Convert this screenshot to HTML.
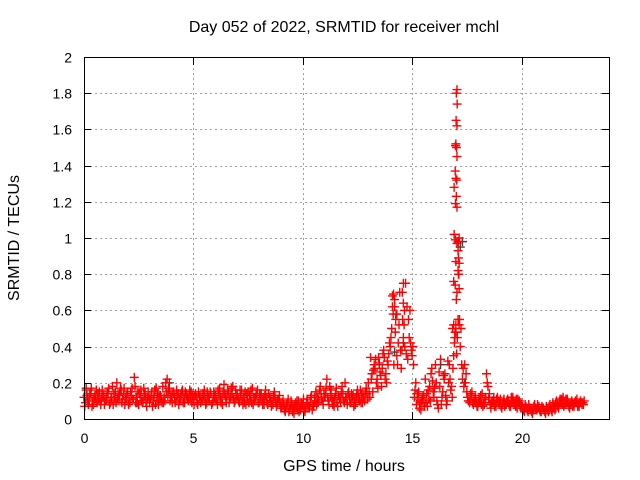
<!DOCTYPE html>
<html><head><meta charset="utf-8"><style>
body{margin:0;background:#fff}
svg{display:block;font-family:"Liberation Sans",sans-serif}
</style></head><body>
<svg id="chart" width="640" height="480" viewBox="0 0 640 480">
<rect width="640" height="480" fill="#fff"/>
<text x="344" y="32" font-size="16" text-anchor="middle">Day 052 of 2022, SRMTID for receiver mchl</text>
<text x="344" y="471" font-size="16" text-anchor="middle">GPS time / hours</text>
<text transform="translate(19,238) rotate(-90)" font-size="16" text-anchor="middle">SRMTID / TECUs</text>
<g id="grid"></g>
<g id="marks"></g>
<rect x="84.5" y="57.5" width="525" height="362" fill="none" stroke="#000" stroke-width="1"/>
<g id="ticks"></g>
</svg>
<script>
const xTicks=[0,5,10,15,20];
const yTicks=[0,0.2,0.4,0.6,0.8,1,1.2,1.4,1.6,1.8,2];
const yTickLabels=["0","0.2","0.4","0.6","0.8","1","1.2","1.4","1.6","1.8","2"];
const valsA=[.12,.16,.08,.14,.10,.13,.09,.15,.11,.12,
.10,.14,.09,.18,.12,.20,.10,.16,.13,.11,
.15,.09,.17,.23,.12,.08,.16,.10,.14,.11,
.09,.15,.12,.17,.08,.13,.18,.10,.22,.16,
.12,.15,.10,.14,.11,.16,.09,.13,.12,.15,
.11,.14,.08,.13,.10,.16,.09,.12,.14,.10,
.13,.08,.17,.11,.19,.09,.15,.12,.18,.10,
.14,.09,.16,.12,.08,.15,.11,.17,.10,.13,
.09,.14,.11,.16,.08,.12,.10,.15,.07,.11,
.06,.10,.04,.09,.05,.08,.03,.07,.10,.05,
.08,.04,.11,.06,.13,.07,.15,.09,.18,.10,
.12,.22,.08,.16,.10,.14,.07,.12,.18,.09,
.11,.15,.09,.13,.08,.16,.10,.14,.12,.17,
.20,.34,.15,.28,.22,.31,.18,.38,.25,.30,
.40,.68,.62,.35,.52,.28,.45,.75,.33,.60,
.35,.12,.08,.15,.05,.10,.22,.07,.18,.28,
.12,.20,.06,.33,.15,.25,.10,.30,.18,.35,
.52,.98,.40,.22,.30,.15,.10,.13,.08,.12,
.07,.10,.14,.08,.25,.11,.06,.10,.08,.12,
.09,.06,.11,.08,.10,.07,.12,.09,.06,.10,
.08,.05,.07,.04,.06,.03,.08,.05,.07,.04,
.06,.03,.05,.08,.04,.07,.10,.06,.09,.12,
.08,.11,.06,.10,.07,.09,.08,.10,.09];
const valsB=[.09,.11,.14,.07,.12,.16,.11,.08,.13,.10,
.15,.08,.12,.14,.09,.13,.17,.11,.08,.14,
.10,.13,.11,.09,.15,.12,.09,.13,.07,.12,
.13,.10,.08,.14,.11,.09,.12,.15,.17,.12,
.14,.09,.13,.10,.15,.12,.14,.10,.11,.13,
.13,.09,.12,.10,.13,.08,.12,.15,.09,.12,
.10,.14,.09,.15,.12,.16,.11,.14,.09,.13,
.10,.13,.08,.15,.11,.13,.09,.12,.14,.09,
.12,.08,.13,.09,.12,.07,.13,.09,.11,.08,
.09,.05,.08,.04,.10,.06,.09,.05,.06,.08,
.05,.09,.07,.12,.08,.10,.12,.16,.11,.14,
.17,.10,.13,.08,.12,.09,.11,.15,.10,.12,
.14,.09,.12,.10,.14,.11,.09,.12,.15,.11,
.12,.25,.30,.20,.34,.24,.36,.22,.32,.42,
.50,.30,.58,.42,.38,.55,.40,.62,.45,.38,
.30,.20,.11,.09,.12,.07,.14,.11,.25,.15,
.30,.08,.18,.12,.22,.08,.20,.16,.28,.48,
.45,.55,.30,.18,.25,.10,.14,.09,.11,.07,
.11,.08,.09,.12,.18,.08,.10,.07,.11,.09,
.07,.10,.08,.11,.07,.09,.08,.11,.09,.07,
.06,.08,.05,.06,.04,.07,.05,.06,.04,.06,
.04,.06,.07,.05,.06,.09,.07,.11,.08,.09,
.10,.07,.09,.08,.10,.07,.09,.08,.10];
const valsC=[.07,.13,.10,.17,.08,.11,.14,.10,.16,.08,
.12,.17,.11,.08,.15,.11,.14,.09,.17,.12,
.08,.15,.11,.18,.09,.14,.10,.17,.09,.15,
.11,.07,.16,.10,.13,.11,.09,.20,.13,.10,
.09,.12,.16,.08,.13,.09,.15,.11,.16,.09,
.08,.12,.15,.09,.14,.11,.15,.10,.08,.15,
.11,.16,.12,.08,.14,.12,.09,.17,.11,.16,
.12,.16,.10,.09,.14,.09,.16,.08,.12,.16,
.14,.10,.08,.12,.14,.10,.08,.12,.09,.13,
.07,.08,.06,.11,.07,.04,.07,.10,.04,.09,
.11,.06,.08,.09,.05,.12,.08,.11,.14,.08,
.14,.12,.18,.11,.07,.17,.13,.09,.14,.20,
.08,.12,.14,.07,.11,.13,.16,.09,.10,.14,
.15,.22,.27,.33,.17,.26,.28,.34,.20,.36,
.45,.58,.48,.30,.70,.38,.52,.36,.55,.42,
.40,.16,.14,.06,.10,.13,.09,.16,.10,.21,
.17,.10,.26,.08,.24,.13,.32,.22,.12,.42,
.36,.80,.50,.28,.20,.12,.09,.15,.10,.09,
.09,.13,.07,.11,.20,.14,.09,.12,.07,.10,
.11,.08,.07,.10,.08,.12,.10,.07,.11,.08,
.07,.04,.06,.08,.05,.05,.06,.08,.05,.07,
.05,.07,.04,.06,.09,.05,.08,.09,.11,.07,
.11,.09,.08,.07,.09,.11,.07,.09,.08];
const spikeT=[17.05,17.02,17.06,17.01,17.05,17.0,16.98,17.03,17.05,16.97,17.0,17.04,16.92,17.02,16.98,17.05,16.92,17.15,16.98,17.1,17.05,17.1,17.12,17.0,17.15,17.1,17.12,16.9,16.97,17.15,17.05,17.02,16.85,16.9,17.15,17.1,17.0,16.95,14.15,14.2,14.6,14.55,14.6,14.65,14.1,14.3,14.25];
const spikeV=[1.82,1.80,1.74,1.65,1.62,1.52,1.51,1.50,1.45,1.37,1.33,1.32,1.28,1.23,1.19,1.17,1.02,1.0,0.99,0.98,0.97,0.93,0.89,0.87,0.86,0.82,0.80,0.76,0.74,0.72,0.70,0.66,0.50,0.52,0.52,0.55,0.48,0.45,0.69,0.66,0.75,0.70,0.64,0.60,0.62,0.58,0.55];
const greyT=[0.1,3.9,13.5,14.2,14.6,16.3,17.2,17.3,17.4];
const greyV=[0.17,0.2,0.3,0.37,0.42,0.3,0.95,0.98,0.2];

const X=t=>84+t*(525/24);
const Y=v=>419-v*181;
const NS='http://www.w3.org/2000/svg';
const grid=document.getElementById('grid'),ticks=document.getElementById('ticks'),marks=document.getElementById('marks');
function mk(tag,attrs,parent){const e=document.createElementNS(NS,tag);for(const k in attrs)e.setAttribute(k,attrs[k]);parent.appendChild(e);return e;}
yTicks.forEach((v,i)=>{
  const y=Math.round(Y(v))+0.5;
  if(v>0&&v<2){const l=mk('line',{x1:85,x2:609,y1:y,y2:y,stroke:'#a0a0a0','stroke-dasharray':'2,3'},grid);
  
  }
  mk('line',{x1:84,x2:91,y1:y,y2:y,stroke:'#000'},ticks);
  mk('line',{x1:602,x2:609,y1:y,y2:y,stroke:'#000'},ticks);
  const t=mk('text',{x:72,y:y+5,'font-size':14,'text-anchor':'end'},ticks);
  t.textContent=yTickLabels[i];
  
  
});
xTicks.forEach(v=>{
  const x=Math.round(X(v))+0.5;
  if(v>0){const l=mk('line',{x1:x,x2:x,y1:58,y2:419,stroke:'#a0a0a0','stroke-dasharray':'2,3'},grid);
  
  }
  mk('line',{x1:x,x2:x,y1:412,y2:419,stroke:'#000'},ticks);
  mk('line',{x1:x,x2:x,y1:58,y2:65,stroke:'#000'},ticks);
  const t=mk('text',{x:x,y:443,'font-size':14,'text-anchor':'middle'},ticks);
  t.textContent=String(v);
  
  
});
function plus(t,v,col,name){
  const x=X(t),y=Y(v);
  const p=mk('path',{d:`M${x-4.5} ${y}H${x+4.5}M${x} ${y-4.5}V${y+4.5}`,stroke:col,'stroke-width':1.4,fill:'none'},marks);
  
  
}
greyT.forEach((t,i)=>plus(t,greyV[i],'#404040','grey-point'));
valsA.forEach((v,i)=>plus(i*0.1,v,'#ff0000','point-a'));
valsC.forEach((v,i)=>plus(i*0.1+0.033,v,'#ff0000','point-c'));
valsB.forEach((v,i)=>plus(i*0.1+0.066,v,'#ff0000','point-b'));
spikeT.forEach((t,i)=>plus(t,spikeV[i],'#ff0000','spike-point'));
</script>
</body></html>
